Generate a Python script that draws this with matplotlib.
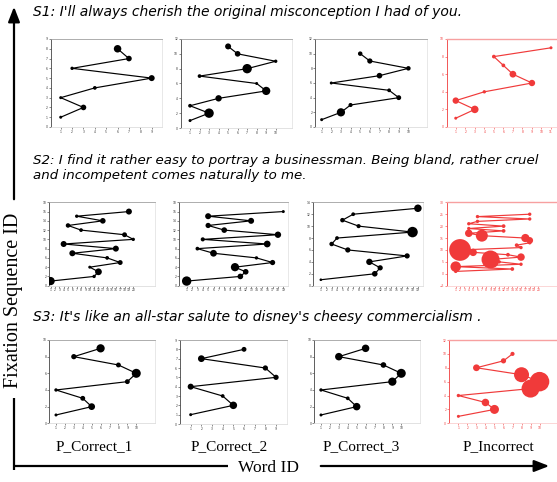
import matplotlib
matplotlib.use("Agg")
import matplotlib.pyplot as plt
import numpy as np

W, H = 557, 482
DPI = 100

# ---------------- data ----------------
sentences = [
    "S1: I'll always cherish the original misconception I had of you.",
    "S2: I find it rather easy to portray a businessman. Being bland, rather cruel\nand incompetent comes naturally to me.",
    "S3: It's like an all-star salute to disney's cheesy commercialism .",
]
column_labels = ["P_Correct_1", "P_Correct_2", "P_Correct_3", "P_Incorrect"]

# word id per fixation (fixation sequence id = 1..n), marker diameter ~ fixation duration
s1_c1_x = [1, 3, 1, 4, 9, 2, 7, 6]
s1_c1_d = [8, 15, 8, 10, 16, 9, 15, 20]
s1_c2_x = [1, 3, 1, 4, 9, 8, 2, 7, 10, 6, 5]
s1_c2_d = [8, 25, 10, 17, 22, 8, 10, 25, 9, 15, 16]
s1_c3_x = [1, 3, 4, 9, 8, 2, 7, 10, 6, 5]
s1_c3_d = [8, 22, 11, 13, 10, 8, 15, 12, 14, 12]
s1_in_x = [1, 3, 1, 4, 9, 7, 6, 5, 11]
s1_in_d = [8, 20, 17, 9, 17, 18, 10, 10, 8]

s2_c1_x = [1, 11, 12, 10, 17, 14, 6, 16, 4, 20, 18, 8, 5, 13, 7, 19]
s2_c1_d = [22, 9, 18, 8, 13, 10, 16, 16, 16, 9, 13, 10, 12, 15, 9, 16]
s2_c2_x = [1, 11, 12, 10, 17, 14, 6, 3, 16, 4, 18, 8, 5, 13, 5, 19]
s2_c2_d = [25, 15, 15, 22, 14, 9, 18, 10, 18, 11, 17, 15, 14, 16, 16, 8]
s2_c3_x = [1, 11, 12, 10, 17, 6, 3, 4, 18, 8, 5, 7, 19]
s2_c3_d = [7, 15, 14, 17, 14, 14, 12, 10, 28, 11, 12, 10, 20]
s2_in_x = [1, 14, 1, 16, 11, 9, 16, 13, 5, 2, 16, 15, 18, 18, 17, 7, 4, 12, 4, 12, 4, 6, 18, 6, 18]
s2_in_d = [9, 10, 28, 9, 9, 48, 20, 10, 20, 58, 9, 10, 9, 18, 22, 32, 20, 10, 9, 10, 9, 9, 9, 9, 9]

s3_c1_x = [1, 5, 4, 1, 9, 10, 8, 3, 6]
s3_c1_d = [8, 18, 13, 9, 13, 24, 13, 14, 22]
s3_c2_x = [1, 5, 4, 1, 9, 8, 2, 6]
s3_c2_d = [8, 20, 10, 16, 14, 14, 18, 13]
s3_c3_x = [1, 5, 4, 1, 9, 10, 8, 3, 6]
s3_c3_d = [8, 20, 10, 9, 22, 24, 15, 20, 20]
s3_in_x = [1, 5, 4, 1, 9, 10, 8, 3, 6, 7]
s3_in_d = [8, 24, 20, 9, 48, 52, 40, 18, 14, 11]

# number of word ticks shown per panel
xmax = [[9, 10, 10, 11], [20, 19, 19, 20], [10, 9, 10, 10]]

panels = [
    [(s1_c1_x, s1_c1_d), (s1_c2_x, s1_c2_d), (s1_c3_x, s1_c3_d), (s1_in_x, s1_in_d)],
    [(s2_c1_x, s2_c1_d), (s2_c2_x, s2_c2_d), (s2_c3_x, s2_c3_d), (s2_in_x, s2_in_d)],
    [(s3_c1_x, s3_c1_d), (s3_c2_x, s3_c2_d), (s3_c3_x, s3_c3_d), (s3_in_x, s3_in_d)],
]

# ---------------- layout (pixels) ----------------
boxes = [
    [(50.7, 161.7, 39, 127), (180.7, 291.7, 39, 128), (315, 426.7, 39, 127), (446.7, 557, 39, 127)],
    [(49.3, 155, 202.3, 285.7), (179.3, 288.3, 202.3, 285.7), (313.3, 423.3, 202.3, 285.7), (446.7, 556.7, 202.3, 285.7)],
    [(49.3, 155, 340, 423.3), (180, 286.7, 340, 424), (314.3, 420, 340, 423.3), (449, 556.7, 340, 423.3)],
]
xpads = [
    [(0.88, 0.88), (0.98, 1.68), (0.69, 1.9), (0.95, 0.63)],
    [(0.3, 5.0), (1.37, 0.93), (1.4, 1.0), (2.07, 4.2)],
    [(0.75, 2.1), (1.0, 1.0), (0.75, 2.1), (1.04, 1.9)],
]
ylims = [
    [(0, 9, 1), (0, 12, 2), (0, 12, 2), (0, 10, 2)],
    [(0, 18, 2), (0, 18, 2), (0, 14, 2), (-5, 30, 5)],
    [(0, 10, 2), (0, 9, 1), (0, 10, 2), (0, 12, 2)],
]

RED = "#f03a3a"

fig = plt.figure(figsize=(W / DPI, H / DPI), dpi=DPI)

for r in range(3):
    for c in range(4):
        xs, ds = panels[r][c]
        l, rr, t, b = boxes[r][c]
        ax = fig.add_axes([l / W, 1 - b / H, (rr - l) / W, (b - t) / H])
        col = RED if c == 3 else "black"
        ys = np.arange(1, len(xs) + 1)
        ax.plot(xs, ys, color=col, lw=0.85, zorder=2)
        sizes = (np.array(ds) * 0.27) ** 2
        ax.scatter(xs, ys, s=sizes, color=col, linewidths=0, zorder=3)
        lp, rp = xpads[r][c]
        ax.set_xlim(1 - lp, xmax[r][c] + rp)
        y0, y1, st = ylims[r][c]
        ax.set_ylim(y0, y1)
        ax.set_yticks(np.arange(y0, y1 + 0.01, st))
        ax.set_xticks(np.arange(1, xmax[r][c] + 1))
        tick_col = RED if c == 3 else "#333333"
        ax.tick_params(axis="both", labelsize=2.2, length=1.2, width=0.4,
                       pad=0.8, colors=tick_col)
        for sp in ax.spines.values():
            sp.set_linewidth(0.6)
        if c == 3:
            ax.spines["left"].set_color(RED)
            ax.spines["top"].set_color("#f7a0a0")
            ax.spines["bottom"].set_color("#fbd0d0")
            ax.spines["right"].set_color("#fbe0e0")
            ax.spines["top"].set_linewidth(1.0)
        else:
            ax.spines["left"].set_color("#444444")
            ax.spines["top"].set_color("#a0a0a0")
            ax.spines["bottom"].set_color("#dddddd")
            ax.spines["right"].set_color("#e4e4e4")
        ax.patch.set_alpha(0)

# overlay for titles, arrows and labels
ov = fig.add_axes([0, 0, 1, 1], zorder=-1)
ov.set_xlim(0, W)
ov.set_ylim(H, 0)
ov.axis("off")

title_y = [12, 168, 317]
title_fs = [10, 9.6, 10]
for i, s in enumerate(sentences):
    ov.text(33, title_y[i], s, fontsize=title_fs[i], fontstyle="italic",
            family="DejaVu Sans", va="center", ha="left", linespacing=1.25)

label_x = [94, 229, 361, 498]
for i, s in enumerate(column_labels):
    ov.text(label_x[i], 447, s, fontsize=11, family="Liberation Serif",
            ha="center", va="center")

# axis arrows
ov.plot([14, 14], [470, 398], color="black", lw=1.6, solid_capstyle="butt")
ov.annotate("", xy=(14, 4), xytext=(14, 202),
            arrowprops=dict(arrowstyle="-|>,head_length=0.9,head_width=0.35",
                            color="black", lw=1.6))
ov.text(14, 300, "Fixation Sequence ID", rotation=90, fontsize=14.5,
        family="Liberation Serif", ha="center", va="center")
ov.plot([13, 228], [466, 466], color="black", lw=1.6, solid_capstyle="butt")
ov.annotate("", xy=(552, 466), xytext=(318, 466),
            arrowprops=dict(arrowstyle="-|>,head_length=0.9,head_width=0.35",
                            color="black", lw=1.6))
ov.text(268, 468, "Word ID", fontsize=12.5, family="Liberation Serif",
        ha="center", va="center")

fig.savefig("out.png", dpi=DPI)
